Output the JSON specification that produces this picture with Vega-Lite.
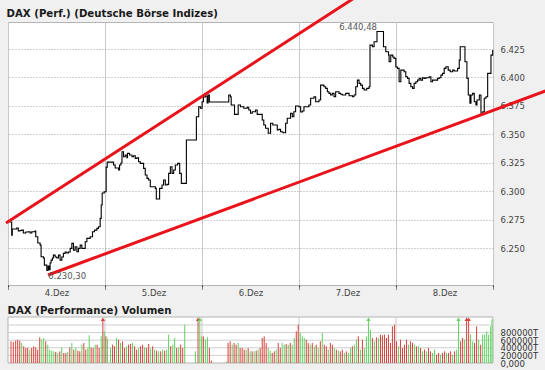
{
"$schema": "https://vega.github.io/schema/vega-lite/v6.json",
"width": 485, "height": 263,
"autosize": {"type": "none"},
"padding": {"left": 8, "top": 22, "right": 52, "bottom": 85},
"background": "#f0f0f0",
"config": {"view": {"fill": "white", "stroke": "#b4b4b4"}, "axis": {"labelFont": "DejaVu Sans", "labelFontSize": 8.5, "labelColor": "#444"}},
"datasets": {
"price": [
{"t":0.018,"v":6272.9},{"t":0.038,"v":6261.4},{"t":0.044,"v":6266.7},{"t":0.090,"v":6267.6},{"t":0.106,"v":6265.0},{"t":0.124,"v":6265.4},{"t":0.142,"v":6265.8},{"t":0.158,"v":6263.2},{"t":0.183,"v":6264.1},{"t":0.210,"v":6264.3},{"t":0.227,"v":6263.2},{"t":0.245,"v":6264.3},{"t":0.279,"v":6265.0},{"t":0.286,"v":6259.9},{"t":0.307,"v":6254.4},{"t":0.331,"v":6252.6},{"t":0.341,"v":6242.3},{"t":0.365,"v":6241.2},{"t":0.375,"v":6235.0},{"t":0.400,"v":6230.3},{"t":0.413,"v":6234.2},{"t":0.424,"v":6231.0},{"t":0.434,"v":6236.8},{"t":0.444,"v":6239.4},{"t":0.458,"v":6241.2},{"t":0.468,"v":6243.8},{"t":0.486,"v":6242.1},{"t":0.503,"v":6241.2},{"t":0.520,"v":6243.8},{"t":0.537,"v":6239.4},{"t":0.555,"v":6242.1},{"t":0.571,"v":6245.3},{"t":0.589,"v":6246.5},{"t":0.606,"v":6245.6},{"t":0.623,"v":6246.5},{"t":0.641,"v":6249.7},{"t":0.658,"v":6254.1},{"t":0.675,"v":6248.2},{"t":0.692,"v":6251.1},{"t":0.710,"v":6246.7},{"t":0.726,"v":6249.7},{"t":0.744,"v":6252.6},{"t":0.761,"v":6249.7},{"t":0.796,"v":6255.5},{"t":0.813,"v":6258.5},{"t":0.847,"v":6259.9},{"t":0.871,"v":6264.3},{"t":0.892,"v":6265.8},{"t":0.916,"v":6267.3},{"t":0.933,"v":6268.7},{"t":0.950,"v":6276.1},{"t":0.961,"v":6287.8},{"t":0.971,"v":6298.4},{"t":0.992,"v":6299.5},
{"t":1.012,"v":6321.2},{"t":1.023,"v":6325.6},{"t":1.074,"v":6325.6},{"t":1.088,"v":6323.0},{"t":1.105,"v":6320.4},{"t":1.140,"v":6318.6},{"t":1.150,"v":6323.0},{"t":1.164,"v":6324.8},{"t":1.175,"v":6334.7},{"t":1.191,"v":6330.3},{"t":1.209,"v":6331.8},{"t":1.226,"v":6329.4},{"t":1.232,"v":6333.3},{"t":1.253,"v":6331.8},{"t":1.278,"v":6330.3},{"t":1.294,"v":6331.2},{"t":1.312,"v":6328.9},{"t":1.330,"v":6329.4},{"t":1.346,"v":6325.9},{"t":1.364,"v":6324.5},{"t":1.398,"v":6320.1},{"t":1.415,"v":6314.2},{"t":1.433,"v":6311.3},{"t":1.449,"v":6309.8},{"t":1.467,"v":6303.9},{"t":1.519,"v":6302.5},{"t":1.529,"v":6293.1},{"t":1.553,"v":6293.1},{"t":1.563,"v":6302.5},{"t":1.588,"v":6305.4},{"t":1.604,"v":6309.8},{"t":1.622,"v":6305.4},{"t":1.640,"v":6306.0},{"t":1.656,"v":6315.7},{"t":1.674,"v":6321.5},{"t":1.691,"v":6315.7},{"t":1.708,"v":6318.6},{"t":1.725,"v":6323.0},{"t":1.749,"v":6324.5},{"t":1.770,"v":6315.7},{"t":1.787,"v":6306.9},{"t":1.829,"v":6306.9},{"t":1.839,"v":6345.0},{"t":1.932,"v":6345.0},{"t":1.942,"v":6365.5},{"t":1.966,"v":6374.3},{"t":1.984,"v":6372.9},
{"t":2.001,"v":6378.7},{"t":2.015,"v":6382.8},{"t":2.035,"v":6383.7},{"t":2.053,"v":6377.5},{"t":2.063,"v":6384.6},{"t":2.076,"v":6378.4},{"t":2.273,"v":6378.4},{"t":2.276,"v":6384.6},{"t":2.293,"v":6383.1},{"t":2.301,"v":6375.8},{"t":2.335,"v":6367.6},{"t":2.373,"v":6375.8},{"t":2.397,"v":6374.3},{"t":2.431,"v":6372.9},{"t":2.466,"v":6373.7},{"t":2.482,"v":6371.4},{"t":2.500,"v":6368.5},{"t":2.518,"v":6369.9},{"t":2.552,"v":6371.4},{"t":2.569,"v":6367.6},{"t":2.603,"v":6367.6},{"t":2.621,"v":6362.6},{"t":2.637,"v":6358.2},{"t":2.655,"v":6355.3},{"t":2.683,"v":6350.9},{"t":2.707,"v":6359.7},{"t":2.730,"v":6358.2},{"t":2.758,"v":6358.2},{"t":2.776,"v":6353.8},{"t":2.792,"v":6354.4},{"t":2.810,"v":6352.3},{"t":2.834,"v":6351.4},{"t":2.862,"v":6359.7},{"t":2.879,"v":6364.1},{"t":2.913,"v":6368.5},{"t":2.931,"v":6365.5},{"t":2.947,"v":6369.9},{"t":2.965,"v":6374.9},{"t":2.999,"v":6374.3},
{"t":3.017,"v":6369.6},{"t":3.034,"v":6370.5},{"t":3.051,"v":6374.3},{"t":3.102,"v":6375.8},{"t":3.120,"v":6381.7},{"t":3.154,"v":6383.1},{"t":3.172,"v":6378.7},{"t":3.206,"v":6380.2},{"t":3.223,"v":6393.3},{"t":3.257,"v":6391.9},{"t":3.275,"v":6390.4},{"t":3.292,"v":6387.5},{"t":3.309,"v":6386.0},{"t":3.326,"v":6384.6},{"t":3.344,"v":6386.0},{"t":3.361,"v":6383.1},{"t":3.378,"v":6387.5},{"t":3.412,"v":6386.0},{"t":3.430,"v":6385.2},{"t":3.447,"v":6384.6},{"t":3.481,"v":6386.0},{"t":3.516,"v":6383.9},{"t":3.551,"v":6383.1},{"t":3.567,"v":6384.6},{"t":3.585,"v":6391.9},{"t":3.602,"v":6397.7},{"t":3.619,"v":6394.8},{"t":3.636,"v":6393.3},{"t":3.654,"v":6390.4},{"t":3.671,"v":6389.0},{"t":3.698,"v":6390.4},{"t":3.722,"v":6391.9},{"t":3.732,"v":6428.5},{"t":3.757,"v":6427.0},{"t":3.774,"v":6431.4},{"t":3.804,"v":6440.48},{"t":3.871,"v":6427.0},{"t":3.895,"v":6422.6},{"t":3.923,"v":6419.7},{"t":3.929,"v":6413.8},{"t":3.946,"v":6419.7},{"t":3.967,"v":6418.0},{"t":3.980,"v":6416.8},{"t":3.998,"v":6409.2},
{"t":4.016,"v":6408.0},{"t":4.032,"v":6396.2},{"t":4.050,"v":6406.5},{"t":4.084,"v":6405.0},{"t":4.101,"v":6400.6},{"t":4.119,"v":6399.2},{"t":4.135,"v":6394.8},{"t":4.153,"v":6391.9},{"t":4.171,"v":6390.4},{"t":4.187,"v":6394.8},{"t":4.205,"v":6396.2},{"t":4.222,"v":6397.7},{"t":4.239,"v":6399.2},{"t":4.256,"v":6397.7},{"t":4.274,"v":6399.8},{"t":4.290,"v":6399.2},{"t":4.308,"v":6399.8},{"t":4.342,"v":6400.6},{"t":4.360,"v":6396.2},{"t":4.377,"v":6397.7},{"t":4.429,"v":6399.2},{"t":4.445,"v":6399.8},{"t":4.463,"v":6402.1},{"t":4.480,"v":6403.6},{"t":4.497,"v":6408.0},{"t":4.515,"v":6409.4},{"t":4.538,"v":6406.5},{"t":4.559,"v":6405.0},{"t":4.584,"v":6406.5},{"t":4.600,"v":6405.7},{"t":4.635,"v":6408.0},{"t":4.652,"v":6415.3},{"t":4.662,"v":6427.0},{"t":4.711,"v":6413.8},{"t":4.731,"v":6399.2},{"t":4.745,"v":6384.6},{"t":4.762,"v":6377.3},{"t":4.773,"v":6384.6},{"t":4.790,"v":6386.0},{"t":4.807,"v":6378.7},{"t":4.824,"v":6375.8},{"t":4.835,"v":6380.2},{"t":4.859,"v":6384.6},{"t":4.876,"v":6368.5},{"t":4.894,"v":6369.9},{"t":4.910,"v":6381.7},{"t":4.928,"v":6383.1},{"t":4.945,"v":6403.6},{"t":4.962,"v":6403.6},{"t":4.979,"v":6419.7},{"t":4.997,"v":6424.1}
],
"trend": [
{"line":"upper","t":-0.0206,"v":6272.0},{"line":"upper","t":3.696,"v":6476.9},
{"line":"lower","t":0.412,"v":6226.3},{"line":"lower","t":5.691,"v":6392.9}
],
"vol": [
{"t":0.031,"v":570000,"c":"r"},{"t":0.055,"v":553000,"c":"r"},{"t":0.079,"v":588000,"c":"r"},{"t":0.100,"v":614000,"c":"r"},{"t":0.121,"v":588000,"c":"r"},{"t":0.141,"v":526000,"c":"g"},{"t":0.162,"v":439000,"c":"r"},{"t":0.183,"v":395000,"c":"r"},{"t":0.203,"v":395000,"c":"r"},{"t":0.224,"v":351000,"c":"g"},{"t":0.244,"v":395000,"c":"r"},{"t":0.265,"v":439000,"c":"r"},{"t":0.286,"v":412000,"c":"r"},{"t":0.306,"v":351000,"c":"r"},{"t":0.327,"v":675000,"c":"r"},{"t":0.348,"v":614000,"c":"g"},{"t":0.368,"v":658000,"c":"g"},{"t":0.389,"v":570000,"c":"r"},{"t":0.410,"v":482000,"c":"g"},{"t":0.430,"v":351000,"c":"g"},{"t":0.451,"v":325000,"c":"g"},{"t":0.472,"v":307000,"c":"g"},{"t":0.492,"v":289000,"c":"r"},{"t":0.513,"v":263000,"c":"g"},{"t":0.534,"v":307000,"c":"r"},{"t":0.554,"v":412000,"c":"g"},{"t":0.575,"v":263000,"c":"r"},{"t":0.596,"v":263000,"c":"r"},{"t":0.616,"v":289000,"c":"g"},{"t":0.637,"v":412000,"c":"r"},{"t":0.658,"v":526000,"c":"g"},{"t":0.678,"v":351000,"c":"r"},{"t":0.699,"v":412000,"c":"g"},{"t":0.720,"v":325000,"c":"r"},{"t":0.740,"v":307000,"c":"r"},{"t":0.761,"v":482000,"c":"g"},{"t":0.782,"v":526000,"c":"r"},{"t":0.802,"v":351000,"c":"r"},{"t":0.823,"v":395000,"c":"g"},{"t":0.837,"v":728000,"c":"g"},{"t":0.857,"v":412000,"c":"r"},{"t":0.878,"v":395000,"c":"r"},{"t":0.899,"v":482000,"c":"g"},{"t":0.919,"v":482000,"c":"r"},{"t":0.940,"v":395000,"c":"r"},{"t":0.961,"v":702000,"c":"g"},{"t":0.978,"v":1150000,"c":"r","a":1},{"t":0.992,"v":833000,"c":"g"},
{"t":1.009,"v":702000,"c":"r"},{"t":1.026,"v":640000,"c":"g"},{"t":1.057,"v":395000,"c":"g"},{"t":1.078,"v":482000,"c":"r"},{"t":1.098,"v":439000,"c":"r"},{"t":1.119,"v":658000,"c":"g"},{"t":1.140,"v":614000,"c":"r"},{"t":1.160,"v":526000,"c":"g"},{"t":1.181,"v":570000,"c":"r"},{"t":1.202,"v":395000,"c":"r"},{"t":1.222,"v":439000,"c":"g"},{"t":1.243,"v":482000,"c":"r"},{"t":1.264,"v":500000,"c":"r"},{"t":1.284,"v":526000,"c":"g"},{"t":1.305,"v":439000,"c":"r"},{"t":1.326,"v":351000,"c":"r"},{"t":1.346,"v":395000,"c":"g"},{"t":1.367,"v":439000,"c":"r"},{"t":1.388,"v":482000,"c":"r"},{"t":1.408,"v":412000,"c":"g"},{"t":1.429,"v":395000,"c":"r"},{"t":1.450,"v":500000,"c":"r"},{"t":1.470,"v":377000,"c":"g"},{"t":1.491,"v":439000,"c":"r"},{"t":1.512,"v":351000,"c":"g"},{"t":1.532,"v":325000,"c":"r"},{"t":1.553,"v":307000,"c":"g"},{"t":1.574,"v":307000,"c":"r"},{"t":1.594,"v":351000,"c":"g"},{"t":1.615,"v":325000,"c":"r"},{"t":1.636,"v":351000,"c":"g"},{"t":1.656,"v":746000,"c":"g"},{"t":1.677,"v":439000,"c":"r"},{"t":1.698,"v":482000,"c":"g"},{"t":1.718,"v":658000,"c":"g"},{"t":1.739,"v":395000,"c":"r"},{"t":1.760,"v":412000,"c":"g"},{"t":1.780,"v":482000,"c":"r"},{"t":1.801,"v":395000,"c":"r"},{"t":1.822,"v":1009000,"c":"g"},{"t":1.932,"v":307000,"c":"g"},{"t":1.959,"v":1150000,"c":"r","a":1},{"t":1.977,"v":1150000,"c":"g","a":1},{"t":1.994,"v":702000,"c":"g"},
{"t":2.014,"v":702000,"c":"r"},{"t":2.035,"v":614000,"c":"g"},{"t":2.056,"v":675000,"c":"g"},{"t":2.076,"v":395000,"c":"r"},{"t":2.097,"v":61000,"c":"r"},{"t":2.249,"v":44000,"c":"g"},{"t":2.269,"v":526000,"c":"r"},{"t":2.290,"v":570000,"c":"r"},{"t":2.311,"v":482000,"c":"g"},{"t":2.331,"v":526000,"c":"r"},{"t":2.352,"v":482000,"c":"r"},{"t":2.373,"v":526000,"c":"g"},{"t":2.393,"v":395000,"c":"r"},{"t":2.414,"v":395000,"c":"r"},{"t":2.435,"v":351000,"c":"r"},{"t":2.455,"v":351000,"c":"g"},{"t":2.476,"v":395000,"c":"r"},{"t":2.497,"v":307000,"c":"g"},{"t":2.517,"v":307000,"c":"r"},{"t":2.538,"v":307000,"c":"g"},{"t":2.559,"v":325000,"c":"r"},{"t":2.579,"v":351000,"c":"g"},{"t":2.600,"v":395000,"c":"r"},{"t":2.621,"v":658000,"c":"r"},{"t":2.641,"v":702000,"c":"r"},{"t":2.662,"v":526000,"c":"r"},{"t":2.683,"v":395000,"c":"g"},{"t":2.703,"v":325000,"c":"g"},{"t":2.724,"v":263000,"c":"r"},{"t":2.745,"v":307000,"c":"r"},{"t":2.765,"v":351000,"c":"g"},{"t":2.786,"v":526000,"c":"r"},{"t":2.807,"v":395000,"c":"r"},{"t":2.827,"v":526000,"c":"g"},{"t":2.848,"v":482000,"c":"g"},{"t":2.868,"v":500000,"c":"r"},{"t":2.889,"v":482000,"c":"g"},{"t":2.910,"v":526000,"c":"r"},{"t":2.930,"v":482000,"c":"g"},{"t":2.951,"v":658000,"c":"g"},{"t":2.972,"v":833000,"c":"r"},{"t":2.992,"v":1009000,"c":"r"},
{"t":3.013,"v":789000,"c":"g"},{"t":3.034,"v":702000,"c":"g"},{"t":3.054,"v":658000,"c":"g"},{"t":3.075,"v":614000,"c":"r"},{"t":3.096,"v":526000,"c":"r"},{"t":3.116,"v":482000,"c":"g"},{"t":3.137,"v":526000,"c":"r"},{"t":3.158,"v":439000,"c":"g"},{"t":3.178,"v":482000,"c":"r"},{"t":3.199,"v":395000,"c":"g"},{"t":3.220,"v":570000,"c":"r"},{"t":3.240,"v":789000,"c":"g"},{"t":3.261,"v":482000,"c":"r"},{"t":3.282,"v":439000,"c":"r"},{"t":3.302,"v":351000,"c":"g"},{"t":3.323,"v":526000,"c":"r"},{"t":3.344,"v":482000,"c":"r"},{"t":3.364,"v":395000,"c":"g"},{"t":3.385,"v":351000,"c":"r"},{"t":3.406,"v":325000,"c":"g"},{"t":3.426,"v":307000,"c":"r"},{"t":3.447,"v":351000,"c":"r"},{"t":3.468,"v":263000,"c":"g"},{"t":3.488,"v":307000,"c":"r"},{"t":3.509,"v":263000,"c":"g"},{"t":3.530,"v":395000,"c":"g"},{"t":3.550,"v":439000,"c":"r"},{"t":3.571,"v":482000,"c":"g"},{"t":3.592,"v":614000,"c":"g"},{"t":3.612,"v":702000,"c":"r"},{"t":3.633,"v":351000,"c":"g"},{"t":3.654,"v":614000,"c":"r"},{"t":3.674,"v":395000,"c":"g"},{"t":3.695,"v":702000,"c":"g"},{"t":3.716,"v":1150000,"c":"g","a":1},{"t":3.736,"v":877000,"c":"g"},{"t":3.757,"v":658000,"c":"r"},{"t":3.777,"v":570000,"c":"g"},{"t":3.798,"v":675000,"c":"r"},{"t":3.819,"v":658000,"c":"g"},{"t":3.840,"v":746000,"c":"r"},{"t":3.860,"v":728000,"c":"r"},{"t":3.881,"v":746000,"c":"r"},{"t":3.902,"v":658000,"c":"r"},{"t":3.922,"v":746000,"c":"r"},{"t":3.943,"v":526000,"c":"r"},{"t":3.963,"v":965000,"c":"r"},{"t":3.984,"v":1009000,"c":"r"},
{"t":4.005,"v":570000,"c":"r"},{"t":4.025,"v":439000,"c":"g"},{"t":4.046,"v":614000,"c":"r"},{"t":4.067,"v":395000,"c":"r"},{"t":4.087,"v":482000,"c":"r"},{"t":4.108,"v":614000,"c":"r"},{"t":4.129,"v":482000,"c":"g"},{"t":4.149,"v":570000,"c":"r"},{"t":4.170,"v":526000,"c":"r"},{"t":4.191,"v":482000,"c":"g"},{"t":4.211,"v":439000,"c":"r"},{"t":4.232,"v":439000,"c":"g"},{"t":4.253,"v":395000,"c":"r"},{"t":4.273,"v":307000,"c":"g"},{"t":4.294,"v":351000,"c":"r"},{"t":4.315,"v":307000,"c":"g"},{"t":4.335,"v":395000,"c":"r"},{"t":4.356,"v":307000,"c":"r"},{"t":4.377,"v":263000,"c":"g"},{"t":4.397,"v":351000,"c":"g"},{"t":4.418,"v":219000,"c":"r"},{"t":4.439,"v":263000,"c":"r"},{"t":4.459,"v":219000,"c":"g"},{"t":4.480,"v":263000,"c":"r"},{"t":4.501,"v":307000,"c":"r"},{"t":4.521,"v":263000,"c":"g"},{"t":4.542,"v":263000,"c":"r"},{"t":4.563,"v":307000,"c":"r"},{"t":4.583,"v":219000,"c":"g"},{"t":4.604,"v":307000,"c":"r"},{"t":4.625,"v":351000,"c":"g"},{"t":4.645,"v":1150000,"c":"g","a":1},{"t":4.666,"v":570000,"c":"r"},{"t":4.687,"v":658000,"c":"r"},{"t":4.707,"v":614000,"c":"g"},{"t":4.728,"v":1150000,"c":"r","a":1},{"t":4.749,"v":1150000,"c":"r","a":1},{"t":4.769,"v":746000,"c":"g"},{"t":4.790,"v":570000,"c":"g"},{"t":4.810,"v":526000,"c":"r"},{"t":4.831,"v":965000,"c":"r"},{"t":4.852,"v":614000,"c":"g"},{"t":4.873,"v":482000,"c":"r"},{"t":4.893,"v":746000,"c":"g"},{"t":4.914,"v":746000,"c":"g"},{"t":4.935,"v":833000,"c":"g"},{"t":4.955,"v":746000,"c":"g"},{"t":4.976,"v":965000,"c":"g"},{"t":4.990,"v":1150000,"c":"g"}
]
},
"resolve": {"scale": {"y": "independent"}, "axis": {"y": "independent"}},
"layer": [
 {"data": {"name": "price"},
  "mark": {"type": "line", "interpolate": "step-after", "color": "#000000", "strokeWidth": 1.1},
  "encoding": {
   "x": {"field": "t", "type": "quantitative", "scale": {"domain": [0, 5], "nice": false, "zero": false},
    "axis": {"orient": "bottom", "values": [0, 1, 2, 3, 4, 5], "grid": true, "gridColor": "#c8c8c8", "domain": false, "ticks": true, "tickColor": "#222222", "tickSize": 4, "tickDash": [2, 1], "labelExpr": "datum.value < 5 ? (datum.value + 4) + '.Dez' : ''", "labelOffset": 48.5, "labelAlign": "center", "labelFlush": false, "labelOverlap": false, "labelBound": false, "labelPadding": -1, "labelBaseline": "top", "title": null}},
   "y": {"field": "v", "type": "quantitative", "scale": {"domain": [6217.5, 6448.8], "nice": false, "zero": false},
    "axis": {"orient": "right", "values": [6250, 6275, 6300, 6325, 6350, 6375, 6400, 6425], "grid": true, "gridDash": [1, 2], "gridColor": "#a0a0a0", "domain": false, "ticks": false, "labelPadding": 7, "labelExpr": "replace(format(datum.value, ','), ',', '.')",
     "title": "DAX (Perf.) (Deutsche Börse Indizes)", "titleAngle": 0, "titleX": -487, "titleY": -5.5, "titleAlign": "left", "titleBaseline": "alphabetic", "titleFont": "DejaVu Sans", "titleFontSize": 10.2, "titleFontWeight": "bold", "titleColor": "#1a1a1a"}}
  }},
 {"data": {"name": "trend"},
  "mark": {"type": "line", "color": "#e8131b", "strokeWidth": 3, "clip": false},
  "encoding": {
   "x": {"field": "t", "type": "quantitative"},
   "y": {"field": "v", "type": "quantitative", "scale": {"domain": [6217.5, 6448.8], "nice": false, "zero": false}, "axis": null},
   "detail": {"field": "line"}
  }},
 {"data": {"values": [{"t": 3.804, "v": 6440.48, "label": "6.440,48"}]},
  "mark": {"type": "text", "align": "right", "baseline": "alphabetic", "dy": -1.5, "font": "DejaVu Sans", "fontSize": 8.5, "color": "#555555"},
  "encoding": {
   "x": {"field": "t", "type": "quantitative"},
   "y": {"field": "v", "type": "quantitative", "scale": {"domain": [6217.5, 6448.8], "nice": false, "zero": false}, "axis": null},
   "text": {"field": "label"}
  }},
 {"data": {"values": [{"t": 0.400, "v": 6230.3, "label": "6.230,30"}]},
  "mark": {"type": "text", "align": "left", "baseline": "top", "dx": 1.5, "dy": 1.5, "font": "DejaVu Sans", "fontSize": 8.5, "color": "#555555"},
  "encoding": {
   "x": {"field": "t", "type": "quantitative"},
   "y": {"field": "v", "type": "quantitative", "scale": {"domain": [6217.5, 6448.8], "nice": false, "zero": false}, "axis": null},
   "text": {"field": "label"}
  }},
 {"data": {"values": [{}]},
  "mark": {"type": "rect", "fill": "white", "stroke": "#b4b4b4", "strokeWidth": 1},
  "encoding": {
   "x": {"datum": 0, "type": "quantitative"}, "x2": {"datum": 5},
   "y": {"datum": 0, "type": "quantitative", "scale": {"domain": [0, 1210000], "range": [341, 295], "nice": false, "zero": false}, "axis": null}, "y2": {"datum": 1210000}
  }},
 {"data": {"values": [{"v": 200000}, {"v": 400000}, {"v": 600000}, {"v": 800000}, {"v": 1000000}]},
  "mark": {"type": "rule", "color": "#cfcfcf", "strokeWidth": 1},
  "encoding": {
   "x": {"datum": 0, "type": "quantitative"}, "x2": {"datum": 5},
   "y": {"field": "v", "type": "quantitative", "scale": {"domain": [0, 1210000], "range": [341, 295], "nice": false, "zero": false}, "axis": null}
  }},
 {"data": {"values": [{"t": 1}, {"t": 2}, {"t": 3}, {"t": 4}]},
  "mark": {"type": "rule", "color": "#c8c8c8", "strokeWidth": 1},
  "encoding": {
   "x": {"field": "t", "type": "quantitative"},
   "y": {"datum": 0, "type": "quantitative", "scale": {"domain": [0, 1210000], "range": [341, 295], "nice": false, "zero": false}, "axis": null}, "y2": {"datum": 1210000}
  }},
 {"data": {"name": "vol"},
  "mark": {"type": "rule", "strokeWidth": 1},
  "encoding": {
   "x": {"field": "t", "type": "quantitative"},
   "y": {"field": "v", "type": "quantitative", "scale": {"domain": [0, 1210000], "range": [341, 295], "nice": false, "zero": false},
    "axis": {"orient": "right", "values": [0, 200000, 400000, 600000, 800000], "grid": false, "domain": false, "ticks": false, "labelPadding": 7, "labelOverlap": false, "labelBound": false, "labelFlush": false, "labelColor": "#333333", "labelExpr": "datum.value == 0 ? '0,000' : datum.value + 'T'",
     "title": "DAX (Performance) Volumen", "titleAngle": 0, "titleX": -486, "titleY": 291, "titleAlign": "left", "titleBaseline": "alphabetic", "titleFont": "DejaVu Sans", "titleFontSize": 10.2, "titleFontWeight": "bold", "titleColor": "#1a1a1a"}},
   "y2": {"datum": 0},
   "color": {"field": "c", "type": "nominal", "scale": {"domain": ["r", "g"], "range": ["#d8413c", "#5ed35e"]}, "legend": null}
  }},
 {"data": {"name": "vol"},
  "transform": [{"filter": "datum.a == 1"}],
  "mark": {"type": "point", "shape": "triangle-up", "filled": true, "size": 18, "opacity": 1},
  "encoding": {
   "x": {"field": "t", "type": "quantitative"},
   "y": {"field": "v", "type": "quantitative", "scale": {"domain": [0, 1210000], "range": [341, 295], "nice": false, "zero": false}, "axis": null},
   "color": {"field": "c", "type": "nominal", "legend": null}
  }}
]
}
